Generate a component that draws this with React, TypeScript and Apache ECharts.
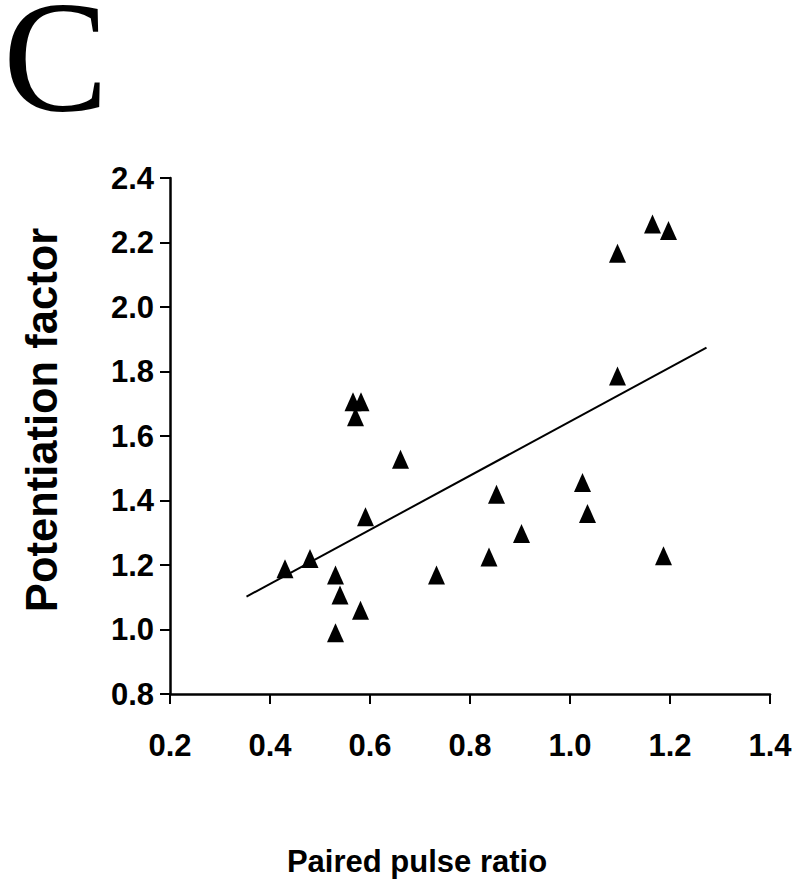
import React, { useEffect, useRef } from "react";
import * as echarts from "echarts";

// Paired pulse ratio (x) vs potentiation factor (y)
const pairedPulseRatio = [0.566, 0.582, 0.571, 0.661, 0.591, 0.48, 0.43, 0.531, 0.54, 0.581, 0.531, 0.733, 0.838, 1.165, 1.197, 1.095, 1.095, 1.025, 0.853, 1.035, 0.903, 1.187];
const potentiationFactor = [1.706, 1.706, 1.66, 1.528, 1.35, 1.22, 1.188, 1.169, 1.107, 1.06, 0.99, 1.169, 1.225, 2.257, 2.237, 2.167, 1.786, 1.456, 1.419, 1.36, 1.298, 1.229];
// Regression line end points
const fitX = [0.353, 1.273];
const fitY = [1.102, 1.874];

const xRange = [0.2, 1.4];
const yRange = [0.8, 2.4];
const tickStep = 0.2;

const panelLabel = "C";
const xTitle = "Paired pulse ratio";
const yTitle = "Potentiation factor";

const SANS = "'Liberation Sans', Arial, Helvetica, sans-serif";
const SERIF = "'Liberation Serif', 'Times New Roman', serif";

export default function App() {
  const ref = useRef<HTMLDivElement>(null);
  useEffect(() => {
    if (!ref.current) return;
    const chart = echarts.init(ref.current, undefined, { renderer: "svg" });
    const points = pairedPulseRatio.map((x, i) => [x, potentiationFactor[i]]);
    const fit = fitX.map((x, i) => [x, fitY[i]]);
    const axisCommon = {
      type: "value" as const,
      interval: tickStep,
      splitLine: { show: false },
      axisLine: { show: true, onZero: false, lineStyle: { color: "#000", width: 2.5 } },
      axisTick: { show: true, inside: false, length: 10, lineStyle: { color: "#000", width: 2 } },
    };
    chart.setOption({
      animation: false,
      backgroundColor: "#fff",
      grid: { left: 170, right: 30, top: 178, bottom: 198, containLabel: false },
      xAxis: {
        ...axisCommon,
        min: xRange[0],
        max: xRange[1],
        axisLabel: {
          color: "#000",
          fontFamily: SANS,
          fontWeight: "bold",
          fontSize: 31,
          margin: 36,
          formatter: (v: number) => v.toFixed(1),
        },
      },
      yAxis: {
        ...axisCommon,
        min: yRange[0],
        max: yRange[1],
        axisLabel: {
          color: "#000",
          fontFamily: SANS,
          fontWeight: "bold",
          fontSize: 31,
          margin: 16,
          formatter: (v: number) => v.toFixed(1),
        },
      },
      graphic: [
        {
          type: "text",
          x: 3,
          y: 0,
          style: {
            text: panelLabel,
            fontFamily: SERIF,
            fontSize: 158,
            lineHeight: 112,
            fill: "#000",
            align: "left",
            verticalAlign: "top",
          },
        },
        {
          type: "text",
          x: 417,
          y: 861,
          style: {
            text: xTitle,
            fontFamily: SANS,
            fontWeight: "bold",
            fontSize: 31,
            fill: "#000",
            align: "center",
            verticalAlign: "middle",
          },
        },
        {
          type: "text",
          x: 42,
          y: 420,
          rotation: Math.PI / 2,
          style: {
            text: yTitle,
            fontFamily: SANS,
            fontWeight: "bold",
            fontSize: 43.5,
            fill: "#000",
            align: "center",
            verticalAlign: "middle",
          },
        },
      ],
      series: [
        {
          type: "line",
          data: fit,
          symbol: "none",
          lineStyle: { color: "#000", width: 2 },
          z: 2,
        },
        {
          type: "scatter",
          data: points,
          symbol: "triangle",
          symbolSize: [17, 19],
          itemStyle: { color: "#000", opacity: 1 },
          z: 3,
        },
      ],
    });
    return () => chart.dispose();
  }, []);
  return <div ref={ref} style={{ position: "fixed", left: 0, top: 0, width: 800, height: 892 }} />;
}
